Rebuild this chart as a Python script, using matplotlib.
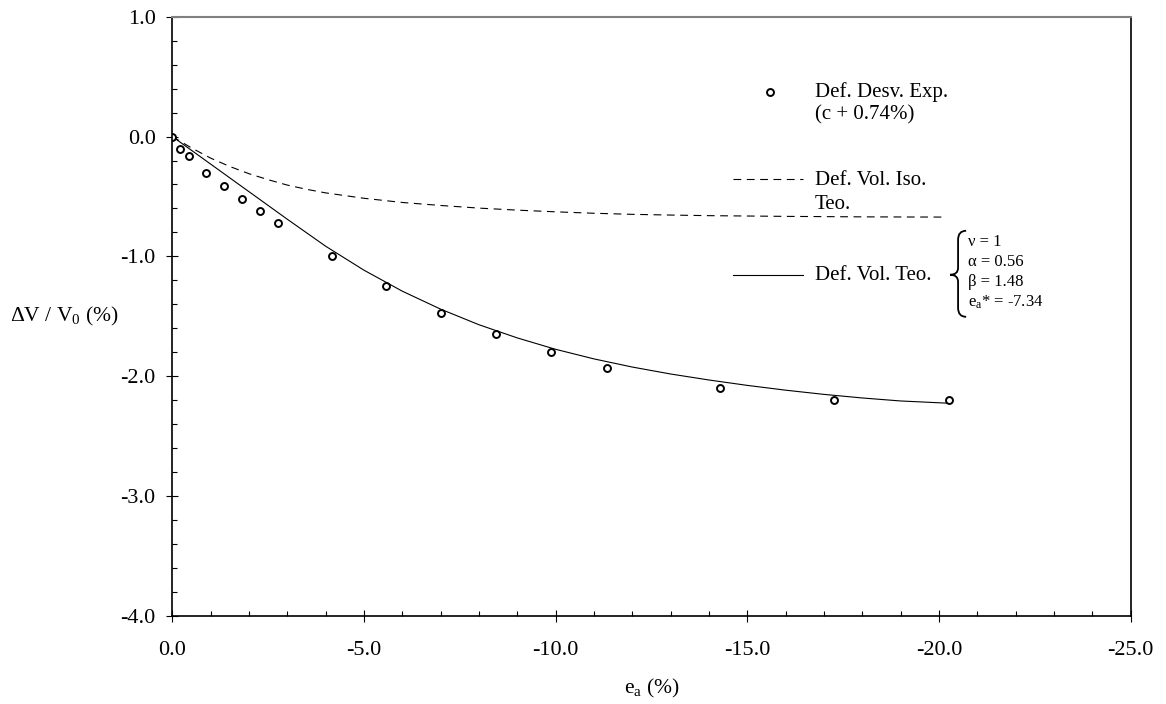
import numpy as np
import matplotlib as m

m.use('Agg')

import matplotlib.pyplot as plt
from matplotlib.path import Path
from matplotlib.patches import PathPatch
from matplotlib.ticker import MultipleLocator, FormatStrFormatter


# experimental points (deviatoric strain, shifted c + 0.74%)
exp_x = [0.0, -0.21, -0.43, -0.89, -1.36, -1.82, -2.29, -2.76, -4.16, -5.58,
         -7.00, -8.44, -9.89, -11.35, -14.30, -17.26, -20.26]
exp_y = [0.0, -0.10, -0.16, -0.30, -0.41, -0.52, -0.62, -0.72, -1.00, -1.25,
         -1.47, -1.65, -1.80, -1.93, -2.10, -2.20, -2.20]

# theoretical volumetric strain (solid)
teo_x = [0.0, -1.0, -2.0, -3.0, -4.0, -5.0, -6.0, -7.0, -8.0, -9.0, -10.0,
         -11.0, -12.0, -13.0, -14.0, -15.0, -16.0, -17.0, -18.0, -19.0, -20.26]
teo_y = [0.0, -0.23, -0.46, -0.69, -0.915, -1.115, -1.29, -1.44, -1.57, -1.68,
         -1.775, -1.855, -1.923, -1.981, -2.031, -2.076, -2.116, -2.151, -2.181,
         -2.206, -2.225]

# theoretical isotropic volumetric strain (dashed)
iso_x = [0.0, -0.5, -1.0, -1.5, -2.0, -2.5, -3.0, -3.5, -4.0, -5.0, -6.0, -7.0,
         -8.0, -9.0, -10.0, -11.0, -12.0, -13.0, -14.0, -16.0, -18.0, -20.2]
iso_y = [0.0, -0.095, -0.18, -0.25, -0.31, -0.36, -0.405, -0.44, -0.47, -0.515,
         -0.55, -0.575, -0.597, -0.614, -0.628, -0.64, -0.649, -0.655, -0.66,
         -0.666, -0.67, -0.672]

params = ['ν = 1', 'α = 0.56', 'β = 1.48', r'e$_\mathrm{a}$* = -7.34']


def main():
  plt.rcParams['font.family'] = ['Liberation Serif', 'DejaVu Serif']
  plt.rcParams['mathtext.fontset'] = 'custom'
  plt.rcParams['mathtext.rm'] = 'Liberation Serif'
  plt.rcParams['mathtext.it'] = 'Liberation Serif:italic'

  fig = plt.figure(figsize=(11.66, 7.04), dpi=100)
  ax = fig.add_axes([0.1478, 0.125, 0.8218, 0.8513])

  ax.plot(iso_x, iso_y, color='black', lw=0.8, dashes=(7, 5))
  ax.plot(teo_x, teo_y, color='black', lw=0.8)
  ax.plot(exp_x, exp_y, 'o', ms=5, mfc='white', mec='black', mew=1.4, ls='none')

  ax.set_xlim(0, -25)
  ax.set_ylim(-4, 1)
  ax.xaxis.set_major_locator(MultipleLocator(5))
  ax.xaxis.set_minor_locator(MultipleLocator(1))
  ax.yaxis.set_major_locator(MultipleLocator(1))
  ax.yaxis.set_minor_locator(MultipleLocator(0.2))
  ax.xaxis.set_major_formatter(FormatStrFormatter('%.1f'))
  ax.yaxis.set_major_formatter(FormatStrFormatter('%.1f'))
  ax.tick_params(which='major', direction='inout', length=8, width=0.8, labelsize=16)
  ax.tick_params(axis='x', which='major', pad=14)
  ax.tick_params(axis='y', which='major', pad=8)
  ax.tick_params(which='minor', direction='in', length=3.6, width=0.8)

  for s in ['left', 'bottom', 'right']:
    ax.spines[s].set_linewidth(1.2)
  ax.spines['top'].set_color('#808080')
  ax.spines['top'].set_linewidth(1.5)

  # legend drawn by hand
  fs = 15
  ax.plot([-15.59], [0.37], 'o', ms=5, mfc='white', mec='black', mew=1.4)
  ax.text(-16.77, 0.329, 'Def. Desv. Exp.', fontsize=fs, va='baseline')
  ax.text(-16.77, 0.145, '(c + 0.74%)', fontsize=fs, va='baseline')
  ax.plot([-14.63, -16.46], [-0.355, -0.355], color='black', lw=0.8, dashes=(7, 5))
  ax.text(-16.77, -0.403, 'Def. Vol. Iso.', fontsize=fs, va='baseline')
  ax.text(-16.77, -0.606, 'Teo.', fontsize=fs, va='baseline')
  ax.plot([-14.63, -16.46], [-1.153, -1.153], color='black', lw=0.8)
  ax.text(-16.77, -1.195, 'Def. Vol. Teo.', fontsize=fs, va='baseline')

  # curly brace with model parameters
  verts = [(-20.71, -0.786), (-20.50, -0.786), (-20.50, -0.862),
           (-20.50, -1.095),
           (-20.50, -1.153), (-20.29, -1.153),
           (-20.50, -1.153), (-20.50, -1.212),
           (-20.50, -1.429),
           (-20.50, -1.504), (-20.71, -1.504)]
  codes = [Path.MOVETO, Path.CURVE3, Path.CURVE3,
           Path.LINETO,
           Path.CURVE3, Path.CURVE3,
           Path.CURVE3, Path.CURVE3,
           Path.LINETO,
           Path.CURVE3, Path.CURVE3]
  ax.add_patch(PathPatch(Path(verts, codes), fc='none', ec='black', lw=1.3))
  for i, p in enumerate(params):
    ax.text(-20.76, -0.909 - i * 0.171, p, fontsize=12, va='baseline')

  fig.text(10 / 1166., 1 - 316.7 / 704., r'ΔV / V$_0$ (%)', fontsize=15.5,
           ha='left', va='center')
  fig.text(652 / 1166., 1 - 693.3 / 704., r'e$_\mathrm{a}$ (%)', fontsize=15.5,
           ha='center', va='baseline')

  fig.savefig('out.png', dpi=100)


if __name__ == '__main__':
  main()
